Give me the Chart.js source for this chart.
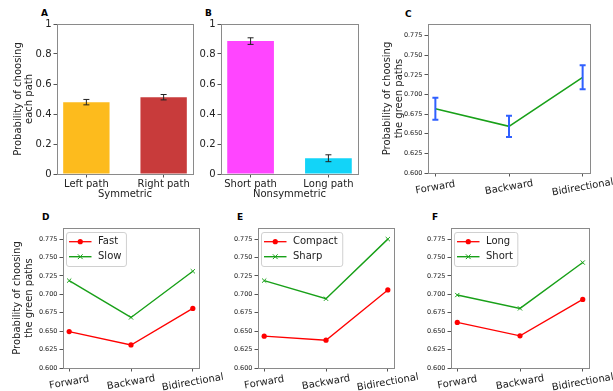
<!DOCTYPE html>
<html><head><meta charset="utf-8">
<script src="https://cdn.jsdelivr.net/npm/chart.js@4/dist/chart.umd.min.js"></script>
<style>
html,body{margin:0;padding:0;background:#fff;width:613px;height:391px;overflow:hidden;position:relative;}
.p{position:absolute;}
.lt{position:absolute;font:bold 9px "DejaVu Sans",sans-serif;line-height:10px;color:#000;}
</style></head><body>
<div class="lt" style="left:41px;top:8px">A</div>
<div class="lt" style="left:205px;top:8px">B</div>
<div class="lt" style="left:405px;top:9px">C</div>
<div class="lt" style="left:42px;top:212px">D</div>
<div class="lt" style="left:237px;top:212px">E</div>
<div class="lt" style="left:432px;top:212px">F</div>

<canvas class="p" id="ca" width="196" height="200" style="left:0px;top:0px"></canvas>
<canvas class="p" id="cb" width="165" height="200" style="left:196px;top:0px"></canvas>
<canvas class="p" id="cc" width="252" height="200" style="left:361px;top:0px"></canvas>
<canvas class="p" id="cd" width="235" height="186" style="left:0px;top:205px"></canvas>
<canvas class="p" id="ce" width="225" height="186" style="left:205px;top:205px"></canvas>
<canvas class="p" id="cf" width="213" height="186" style="left:400px;top:205px"></canvas>

<script>
// ---------- data ----------
const symCategories = ['Left path', 'Right path'];
const symValues = [0.479, 0.512];
const symErrors = [0.018, 0.018];
const symColors = ['#fdbb1d', '#c83b3b'];

const nonsymCategories = ['Short path', 'Long path'];
const nonsymValues = [0.886, 0.105];
const nonsymErrors = [0.022, 0.023];
const nonsymColors = ['#ff45ff', '#12d4f8'];

const barTicks = [0, 0.2, 0.4, 0.6, 0.8, 1];

const directions = ['Forward', 'Backward', 'Bidirectional'];
const greenTicks = [0.600, 0.625, 0.650, 0.675, 0.700, 0.725, 0.750, 0.775];

const overallGreen = [0.682, 0.6595, 0.722];
const overallGreenErr = [0.014, 0.0135, 0.0153];

const fastValues = [0.6495, 0.6313, 0.6809];
const slowValues = [0.7186, 0.6686, 0.7313];
const compactValues = [0.6432, 0.6377, 0.7059];
const sharpValues = [0.7186, 0.6940, 0.7749];
const longValues = [0.6618, 0.6436, 0.6931];
const shortValues = [0.6990, 0.6809, 0.7431];

// ---------- styling / helpers ----------
const FONT = '"DejaVu Sans", sans-serif';
const TEXT = '#222';
const RED = '#ff0000';
const GREEN = '#18a018';
Chart.defaults.font.family = FONT;
Chart.defaults.color = TEXT;
Chart.defaults.animation = false;

const toPts = vals => vals.map((v, i) => ({x: i, y: v}));

function drawMarker(ctx, style, x, y, r, color) {
  ctx.save();
  if (style === 'circle') {
    ctx.fillStyle = color;
    ctx.beginPath(); ctx.arc(x, y, r, 0, Math.PI * 2); ctx.fill();
  } else {
    ctx.strokeStyle = color; ctx.lineWidth = 1;
    const d = r * 0.8;
    ctx.beginPath();
    ctx.moveTo(x - d, y - d); ctx.lineTo(x + d, y + d);
    ctx.moveTo(x - d, y + d); ctx.lineTo(x + d, y - d);
    ctx.stroke();
  }
  ctx.restore();
}

const framePlugin = {
  id: 'frame',
  afterDatasetsDraw(chart) {
    const {ctx, chartArea: a} = chart;
    ctx.save();
    ctx.strokeStyle = '#8a8a8a'; ctx.lineWidth = 1;
    ctx.strokeRect(Math.round(a.left) + 0.5, Math.round(a.top) + 0.5,
      Math.round(a.right - a.left), Math.round(a.bottom - a.top));
    ctx.restore();
  }
};

const errorBarPlugin = {
  id: 'errbars',
  afterDatasetsDraw(chart, args, o) {
    if (!o || !o.errors) return;
    const {ctx} = chart;
    const xs = chart.scales.x, ys = chart.scales.y;
    const data = chart.data.datasets[0].data;
    ctx.save();
    ctx.strokeStyle = o.color; ctx.lineWidth = o.width;
    data.forEach((p, i) => {
      const x = xs.getPixelForValue(p.x);
      const y1 = ys.getPixelForValue(p.y + o.errors[i]);
      const y2 = ys.getPixelForValue(p.y - o.errors[i]);
      ctx.beginPath();
      ctx.moveTo(x, y1); ctx.lineTo(x, y2);
      ctx.moveTo(x - o.cap, y1); ctx.lineTo(x + o.cap, y1);
      ctx.moveTo(x - o.cap, y2); ctx.lineTo(x + o.cap, y2);
      ctx.stroke();
    });
    ctx.restore();
  }
};

const rotLabelPlugin = {
  id: 'rotlabels',
  afterDraw(chart, args, o) {
    if (!o || !o.labels) return;
    const {ctx, chartArea: a} = chart;
    const xs = chart.scales.x;
    ctx.save();
    ctx.font = o.size + 'px ' + FONT;
    ctx.fillStyle = TEXT; ctx.textAlign = 'center'; ctx.textBaseline = 'middle';
    o.labels.forEach((t, i) => {
      const x = xs.getPixelForValue(i);
      const y = a.bottom + o.dy;
      ctx.save(); ctx.translate(x, y); ctx.rotate(-o.angle * Math.PI / 180);
      ctx.fillText(t, 0, 0); ctx.restore();
    });
    ctx.restore();
  }
};

const lineLegendPlugin = {
  id: 'lineLegend',
  afterDraw(chart, args, o) {
    if (!o || !o.show) return;
    const {ctx, chartArea: a} = chart;
    ctx.save();
    ctx.font = '10px ' + FONT;
    const items = chart.data.datasets;
    const tw = Math.max(...items.map(d => ctx.measureText(d.label).width));
    const bx = a.left + 3.5, by = a.top + 4.5, bw = 31.5 + tw + 5, bh = 34;
    ctx.beginPath();
    ctx.roundRect(bx, by, bw, bh, 2.5);
    ctx.fillStyle = 'rgba(255,255,255,0.8)'; ctx.fill();
    ctx.strokeStyle = '#d0d0d0'; ctx.lineWidth = 1; ctx.stroke();
    items.forEach((d, i) => {
      const y = by + 9.2 + i * 15;
      ctx.strokeStyle = d.borderColor; ctx.lineWidth = d.borderWidth;
      ctx.beginPath(); ctx.moveTo(bx + 2.5, y); ctx.lineTo(bx + 25, y); ctx.stroke();
      drawMarker(ctx, d.pointStyle, bx + 13.75, y, d.pointRadius, d.borderColor);
      ctx.fillStyle = TEXT; ctx.textAlign = 'left'; ctx.textBaseline = 'middle';
      ctx.fillText(d.label, bx + 31.5, y);
    });
    ctx.restore();
  }
};

const gridOpts = {display: true, drawOnChartArea: false, drawTicks: true, tickLength: 3.5, color: '#555', offset: false};

function yTitle(lines, padTop) {
  if (!lines) return {display: false};
  return {display: true, text: lines, color: TEXT, font: {size: 10, lineHeight: 1.15}, padding: {top: padTop, bottom: 0}};
}

function barPanel(id, cats, vals, errs, colors, xTitleText, yLines, lay) {
  return new Chart(document.getElementById(id), {
    type: 'bar',
    data: {datasets: [{data: toPts(vals), backgroundColor: colors, borderWidth: 0, barPercentage: 0.6, categoryPercentage: 1}]},
    options: {
      responsive: false, animation: false, events: [],
      layout: {autoPadding: false, padding: {top: lay.pt, right: lay.pr, left: 0, bottom: 0}},
      plugins: {legend: {display: false}, tooltip: {enabled: false},
        errbars: {errors: errs, color: '#222', width: 1, cap: 3}},
      scales: {
        x: {
          type: 'linear', min: -0.38, max: 1.38, offset: false,
          afterBuildTicks: s => { s.ticks = cats.map((c, i) => ({value: i})); },
          afterFit: s => { s.height = lay.xh; },
          ticks: {font: {size: 10}, padding: 1, maxRotation: 0, autoSkip: false, color: TEXT,
            callback: v => cats[v] ?? ''},
          grid: gridOpts, border: {display: false},
          title: {display: true, text: xTitleText, color: TEXT, font: {size: 10, lineHeight: 1.15}, padding: {top: 0, bottom: 0}}
        },
        y: {
          min: 0, max: 1,
          afterBuildTicks: s => { s.ticks = barTicks.map(v => ({value: v})); },
          afterFit: s => { s.width = lay.yw; },
          ticks: {font: {size: 10}, padding: 2, color: TEXT,
            callback: v => (v === 0 || v === 1) ? String(v) : v.toFixed(1)},
          grid: gridOpts, border: {display: false},
          title: yTitle(yLines, lay.ytp)
        }
      }
    },
    plugins: [errorBarPlugin, framePlugin]
  });
}

function linePanel(id, datasets, yLines, lay, extra) {
  const plugins = {legend: {display: false}, tooltip: {enabled: false},
    rotlabels: {labels: directions, dy: 14.5, angle: 10, size: 10},
    lineLegend: {show: !extra}};
  if (extra) plugins.errbars = extra;
  return new Chart(document.getElementById(id), {
    type: 'line',
    data: {datasets},
    options: {
      responsive: false, animation: false, events: [],
      layout: {autoPadding: false, padding: {top: lay.pt, right: lay.pr, left: 0, bottom: 0}},
      plugins,
      scales: {
        x: {
          type: 'linear', min: -0.1, max: 2.1,
          afterBuildTicks: s => { s.ticks = directions.map((c, i) => ({value: i})); },
          afterFit: s => { s.height = lay.xh; },
          ticks: {callback: () => '', autoSkip: false, maxRotation: 0},
          grid: gridOpts, border: {display: false}
        },
        y: {
          min: 0.6, max: 0.79,
          afterBuildTicks: s => { s.ticks = greenTicks.map(v => ({value: v})); },
          afterFit: s => { s.width = lay.yw; },
          ticks: {font: {size: 6.5}, padding: 2, color: TEXT, callback: v => v.toFixed(3)},
          grid: gridOpts, border: {display: false},
          title: yTitle(yLines, lay.ytp)
        }
      }
    },
    plugins: [errorBarPlugin, framePlugin, rotLabelPlugin, lineLegendPlugin]
  });
}

function redSet(label, vals) {
  return {label, data: toPts(vals), borderColor: RED, backgroundColor: RED, borderWidth: 1.3,
    pointStyle: 'circle', pointRadius: 2.6, pointBorderWidth: 0, tension: 0};
}
function greenSet(label, vals) {
  return {label, data: toPts(vals), borderColor: GREEN, backgroundColor: GREEN, borderWidth: 1.4,
    pointStyle: 'crossRot', pointRadius: 3, pointBorderWidth: 1, pointBorderColor: GREEN, tension: 0};
}

const greenTitle = ['Probability of choosing', 'the green paths'];

barPanel('ca', symCategories, symValues, symErrors, symColors, 'Symmetric',
  ['Probability of choosing', 'each path'], {pt: 24, pr: 3, yw: 57, xh: 26, ytp: 12.5});
barPanel('cb', nonsymCategories, nonsymValues, nonsymErrors, nonsymColors, 'Nonsymmetric',
  null, {pt: 24, pr: 3, yw: 25, xh: 26});

linePanel('cc', [{label: 'Overall', data: toPts(overallGreen), borderColor: GREEN, borderWidth: 1.5, pointRadius: 0, tension: 0}],
  greenTitle, {pt: 24, pr: 23, yw: 67, xh: 27, ytp: 21},
  {errors: overallGreenErr, color: '#3060ff', width: 2, cap: 3});

linePanel('cd', [redSet('Fast', fastValues), greenSet('Slow', slowValues)],
  greenTitle, {pt: 23, pr: 36, yw: 63, xh: 23, ytp: 12});
linePanel('ce', [redSet('Compact', compactValues), greenSet('Sharp', sharpValues)],
  null, {pt: 23, pr: 36, yw: 53, xh: 23});
linePanel('cf', [redSet('Long', longValues), greenSet('Short', shortValues)],
  null, {pt: 23, pr: 24, yw: 51, xh: 23});
</script>
</body></html>
